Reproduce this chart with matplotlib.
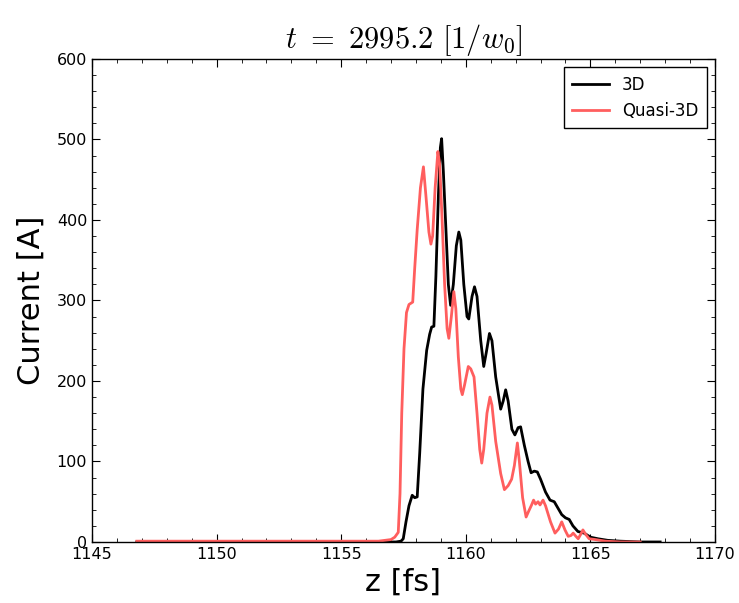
import matplotlib
matplotlib.use("Agg")
import matplotlib.pyplot as plt
from matplotlib.ticker import MultipleLocator

# 3D simulation current profile
z_3d = [1146.8, 1150, 1155, 1157.2, 1157.4, 1157.49, 1157.6, 1157.72, 1157.85, 1157.95, 1158.05,
        1158.15, 1158.28, 1158.43, 1158.55, 1158.63, 1158.72, 1158.8, 1158.9, 1158.98, 1159.03,
        1159.1, 1159.2, 1159.3, 1159.39, 1159.5, 1159.62, 1159.72, 1159.8, 1159.92, 1160.05,
        1160.12, 1160.25, 1160.35, 1160.45, 1160.6, 1160.72, 1160.82, 1160.95, 1161.05, 1161.2,
        1161.4, 1161.5, 1161.6, 1161.7, 1161.85, 1161.97, 1162.1, 1162.2, 1162.35, 1162.5,
        1162.62, 1162.75, 1162.87, 1163.0, 1163.2, 1163.38, 1163.55, 1163.7, 1163.85, 1164.0,
        1164.15, 1164.3, 1164.5, 1164.75, 1165.0, 1165.3, 1165.7, 1166.2, 1167.0, 1167.8]
I_3d = [0, 0, 0, 0, 1, 4, 25, 45, 58, 55, 56,
        110, 190, 238, 258, 267, 268, 330, 430, 490, 501,
        460, 390, 320, 294, 320, 368, 385, 375, 320, 280,
        277, 305, 317, 305, 250, 218, 235, 259, 250, 205,
        165, 175, 189, 175, 140, 133, 142, 143, 120, 100,
        86, 88, 87, 78, 62, 52, 50, 42, 34, 30,
        28, 20, 13, 11, 6, 4, 2, 1, 0, 0]

# Quasi-3D simulation current profile
z_q3d = [1146.8, 1150, 1153, 1156.5, 1157.0, 1157.15, 1157.29, 1157.36, 1157.43, 1157.52, 1157.62,
         1157.72, 1157.87, 1157.95, 1158.05, 1158.18, 1158.3, 1158.4, 1158.52, 1158.6, 1158.67,
         1158.77, 1158.88, 1158.95, 1159.05, 1159.15, 1159.25, 1159.32, 1159.42, 1159.52, 1159.6,
         1159.7, 1159.8, 1159.86, 1159.95, 1160.1, 1160.2, 1160.33, 1160.45, 1160.56, 1160.64,
         1160.72, 1160.85, 1160.97, 1161.05, 1161.2, 1161.4, 1161.55, 1161.7, 1161.84, 1161.95,
         1162.07, 1162.15, 1162.28, 1162.42, 1162.52, 1162.64, 1162.72, 1162.8, 1162.9, 1162.98,
         1163.1, 1163.2, 1163.4, 1163.58, 1163.72, 1163.85, 1163.98, 1164.11, 1164.22, 1164.31,
         1164.42, 1164.51, 1164.62, 1164.7, 1164.8, 1164.95, 1165.2, 1165.6, 1166.2, 1167.0]
I_q3d = [1, 1, 1, 1, 3, 6, 12, 60, 160, 240, 285,
         295, 298, 340, 388, 440, 466, 430, 385, 370, 380,
         440, 485, 470, 400, 320, 265, 253, 280, 311, 290,
         230, 190, 183, 195, 218, 215, 205, 160, 115, 98,
         115, 160, 180, 170, 125, 85, 65, 70, 78, 95,
         123, 100, 55, 31, 38, 46, 52, 47, 50, 46,
         52, 45, 25, 11, 16, 25, 15, 7, 8, 11,
         7, 4, 10, 15, 10, 4, 3, 1, 0, 0]

x_ticks = [1145, 1150, 1155, 1160, 1165, 1170]
y_ticks = [0, 100, 200, 300, 400, 500, 600]

plt.rcParams['mathtext.fontset'] = 'cm'
fig = plt.figure(figsize=(7.39, 6.03), dpi=100)
ax = fig.add_axes([0.1245, 0.1012, 0.843, 0.801])

ax.plot(z_3d, I_3d, color='black', lw=2, label='3D')
ax.plot(z_q3d, I_q3d, color='#ff5e5e', lw=2, label='Quasi-3D')

ax.set_xlim(1145, 1170)
ax.set_ylim(0, 600)
ax.set_xticks(x_ticks)
ax.set_yticks(y_ticks)
ax.xaxis.set_minor_locator(MultipleLocator(1))
ax.yaxis.set_minor_locator(MultipleLocator(20))
ax.tick_params(which='both', direction='in', top=True, right=True, labelsize=11.5)
ax.tick_params(which='major', length=6)
ax.tick_params(which='minor', length=3)
for s in ax.spines.values():
    s.set_linewidth(1.0)

ax.set_xlabel('z [fs]', fontsize=22, labelpad=4)
ax.set_ylabel('Current [A]', fontsize=22, labelpad=8)
ax.set_title(r'$t\ =\ 2995.2\ [1/w_0]$', fontsize=22, pad=8)

leg = ax.legend(loc='upper right', fontsize=12, fancybox=False, framealpha=1,
                edgecolor='black', handlelength=2.2, borderpad=0.5)
leg.get_frame().set_linewidth(1.0)

fig.savefig('out.png', dpi=100, facecolor='white')
